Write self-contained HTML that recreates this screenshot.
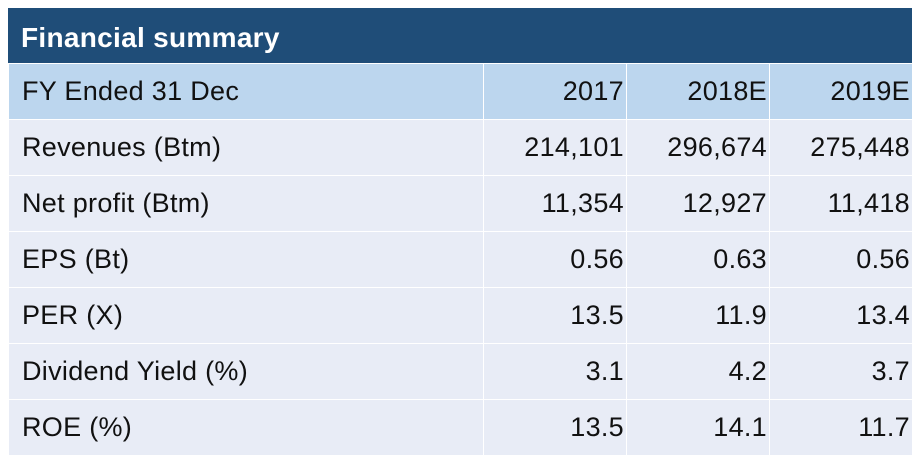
<!DOCTYPE html>
<html><head><meta charset="utf-8">
<style>
body{margin:0;width:920px;height:466px;background:#fff;font-family:"Liberation Sans",sans-serif;overflow:hidden}
.wrap{position:absolute;left:8px;top:8px;width:904px}
.title{height:55px;background:#1f4d78;color:#fff;font-weight:bold;font-size:28px;line-height:60px;padding-left:13px;box-sizing:border-box;letter-spacing:0.3px}
table{border-collapse:collapse;width:904px;table-layout:fixed}
td{height:56px;border:1px solid #fff;font-size:27px;color:#111;padding:0 3px 0 13px;box-sizing:border-box;letter-spacing:0.3px}
td.n{text-align:right;padding:0 2px 0 0}
tr.h td{background:#bcd6ee}
tr.r td{background:#e8ecf6}
</style></head><body>
<div class="wrap">
<div class="title">Financial summary</div>
<table>
<colgroup><col style="width:475px"><col style="width:143px"><col style="width:143px"><col style="width:143px"></colgroup>
<tr class="h"><td>FY Ended 31 Dec</td><td class="n">2017</td><td class="n">2018E</td><td class="n">2019E</td></tr>
<tr class="r"><td>Revenues (Btm)</td><td class="n">214,101</td><td class="n">296,674</td><td class="n">275,448</td></tr>
<tr class="r"><td>Net profit (Btm)</td><td class="n">11,354</td><td class="n">12,927</td><td class="n">11,418</td></tr>
<tr class="r"><td>EPS (Bt)</td><td class="n">0.56</td><td class="n">0.63</td><td class="n">0.56</td></tr>
<tr class="r"><td>PER (X)</td><td class="n">13.5</td><td class="n">11.9</td><td class="n">13.4</td></tr>
<tr class="r"><td>Dividend Yield (%)</td><td class="n">3.1</td><td class="n">4.2</td><td class="n">3.7</td></tr>
<tr class="r"><td>ROE (%)</td><td class="n">13.5</td><td class="n">14.1</td><td class="n">11.7</td></tr>
</table>
</div>
</body></html>
